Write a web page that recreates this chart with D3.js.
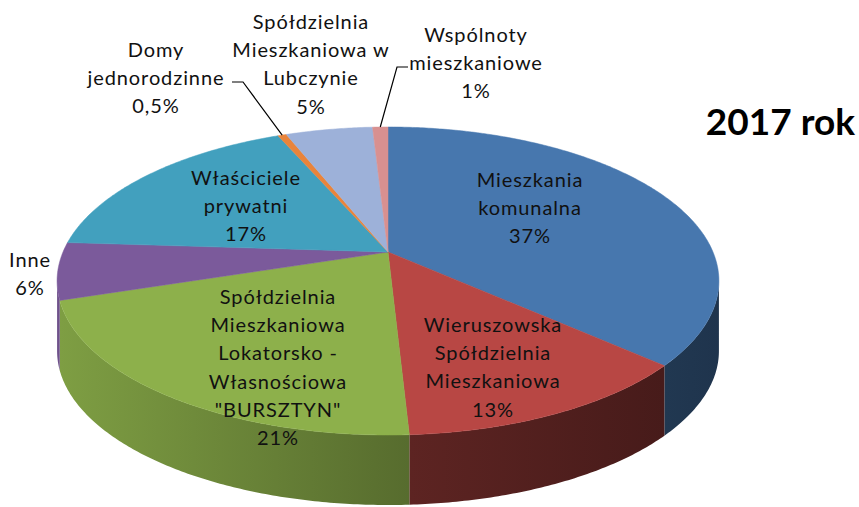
<!DOCTYPE html>
<html>
<head>
<meta charset="utf-8">
<script src="https://cdn.jsdelivr.net/npm/d3@7"></script>
<style>
  html, body { margin: 0; padding: 0; background: #fff; }
  svg { display: block; font-family: Lato, "Open Sans", sans-serif; }
</style>
</head>
<body>
<div id="chart"></div>
<script>
// Shares (clockwise from 12 o'clock)
const categories = [
  'Mieszkania komunalna',
  'Wieruszowska Spółdzielnia Mieszkaniowa',
  'Spółdzielnia Mieszkaniowa Lokatorsko - Własnościowa "BURSZTYN"',
  'Inne',
  'Właściciele prywatni',
  'Domy jednorodzinne',
  'Spółdzielnia Mieszkaniowa w Lubczynie',
  'Wspólnoty mieszkaniowe'
];
const shares = [36.7, 12.5, 20.9, 6.0, 17.5, 0.5, 5.1, 0.9];
const percentLabels = ['37%', '13%', '21%', '6%', '17%', '0,5%', '5%', '1%'];
const labelLines = [
  ['Mieszkania', 'komunalna'],
  ['Wieruszowska', 'Spółdzielnia', 'Mieszkaniowa'],
  ['Spółdzielnia', 'Mieszkaniowa', 'Lokatorsko -', 'Własnościowa', '"BURSZTYN"'],
  ['Inne'],
  ['Właściciele', 'prywatni'],
  ['Domy', 'jednorodzinne'],
  ['Spółdzielnia', 'Mieszkaniowa w', 'Lubczynie'],
  ['Wspólnoty', 'mieszkaniowe']
];
const colors = ['#4777ae', '#b84744', '#8db04b', '#7b5a9b', '#42a0be', '#e9843b', '#9db1d9', '#d89090'];

// layout: label anchor (centre x, first baseline y) and leader-line elbows
const labelLayout = [
  { x: 530, y: 187 },
  { x: 493, y: 332 },
  { x: 278, y: 304 },
  { x: 30, y: 267 },
  { x: 246, y: 185 },
  { x: 156, y: 57, leader: [[232, 82], [243, 82]] },
  { x: 311, y: 29 },
  { x: 476, y: 42, leader: [[408, 67], [397, 67]] }
];

const W = 859, H = 507;
const lineH = 28.2;
const depth = 70;

// perspective projection of the pie's unit circle
const cx = 388, cy0 = 252, A = 101.1, C = -0.1883, K = 325;
function proj(theta, r) {
  const u = r * Math.sin(theta), v = -r * Math.cos(theta);
  const w = 1 + C * v;
  return [cx + K * u / w, (A * v + cy0) / w];
}
// angles where the rim is at its horizontal extremes (visible side)
const tRight = Math.acos(C), tLeft = 2 * Math.PI - Math.acos(C);

const svg = d3.select('#chart').append('svg')
  .attr('width', W).attr('height', H);

const defs = svg.append('defs');

const pie = d3.pie().sort(null).value(d => d);
const arcs = pie(shares);

const line = d3.line();

function arcPoints(a0, a1, r, dy) {
  const n = Math.max(2, Math.ceil((a1 - a0) / 0.01));
  const pts = [];
  for (let i = 0; i <= n; i++) {
    const p = proj(a0 + (a1 - a0) * i / n, r);
    pts.push([p[0], p[1] + dy]);
  }
  return pts;
}

// x scale used for side shading (left lighter, right darker)
const shade = d3.scaleLinear().domain([57, 720]).range([0.3, 2.3]);

// side walls
const walls = svg.append('g');
arcs.forEach((d, i) => {
  const s = Math.max(d.startAngle, tRight), e = Math.min(d.endAngle, tLeft);
  if (e <= s) return;
  const top = arcPoints(s, e, 1, 0);
  const bottom = arcPoints(s, e, 1, depth).reverse();
  const xs = top.map(p => p[0]);
  const x0 = d3.min(xs), x1 = d3.max(xs);
  const gid = 'side' + i;
  const extra = i === 1 ? 0.55 : 0;
  const grad = defs.append('linearGradient').attr('id', gid)
    .attr('gradientUnits', 'userSpaceOnUse')
    .attr('x1', x1).attr('y1', 0).attr('x2', x0).attr('y2', 0);
  grad.append('stop').attr('offset', 0)
    .attr('stop-color', d3.color(colors[i]).darker(shade(x1) + extra));
  grad.append('stop').attr('offset', 1)
    .attr('stop-color', d3.color(colors[i]).darker(shade(x0) + extra));
  walls.append('path')
    .attr('d', line(top.concat(bottom)) + 'Z')
    .attr('fill', `url(#${gid})`);
});

// top faces
const tops = svg.append('g');
arcs.forEach((d, i) => {
  const pts = [proj(0, 0)].concat(arcPoints(d.startAngle, d.endAngle, 1, 0));
  tops.append('path')
    .attr('d', line(pts) + 'Z')
    .attr('fill', colors[i])
    .attr('stroke', colors[i])
    .attr('stroke-width', 0.5);
});

// leader lines
const leaders = svg.append('g');
arcs.forEach((d, i) => {
  const lay = labelLayout[i];
  if (!lay.leader) return;
  const end = proj((d.startAngle + d.endAngle) / 2, 1);
  leaders.append('path')
    .attr('d', line(lay.leader.concat([end])))
    .attr('fill', 'none')
    .attr('stroke', '#000')
    .attr('stroke-width', 1.2);
});

// labels
const labels = svg.append('g')
  .attr('font-size', 20)
  .attr('letter-spacing', 0.9)
  .attr('fill', '#111')
  .attr('text-anchor', 'middle');
arcs.forEach((d, i) => {
  const lay = labelLayout[i];
  const lines = labelLines[i].concat([percentLabels[i]]);
  const t = labels.append('text').attr('x', lay.x).attr('y', lay.y);
  lines.forEach((s, j) => {
    t.append('tspan').attr('x', lay.x).attr('y', lay.y + j * lineH).text(s);
  });
});

// title
svg.append('text')
  .attr('x', 855).attr('y', 135)
  .attr('text-anchor', 'end')
  .attr('font-size', 37)
  .attr('font-weight', 'bold')
  .attr('fill', '#000')
  .text('2017 rok');
</script>
</body>
</html>
